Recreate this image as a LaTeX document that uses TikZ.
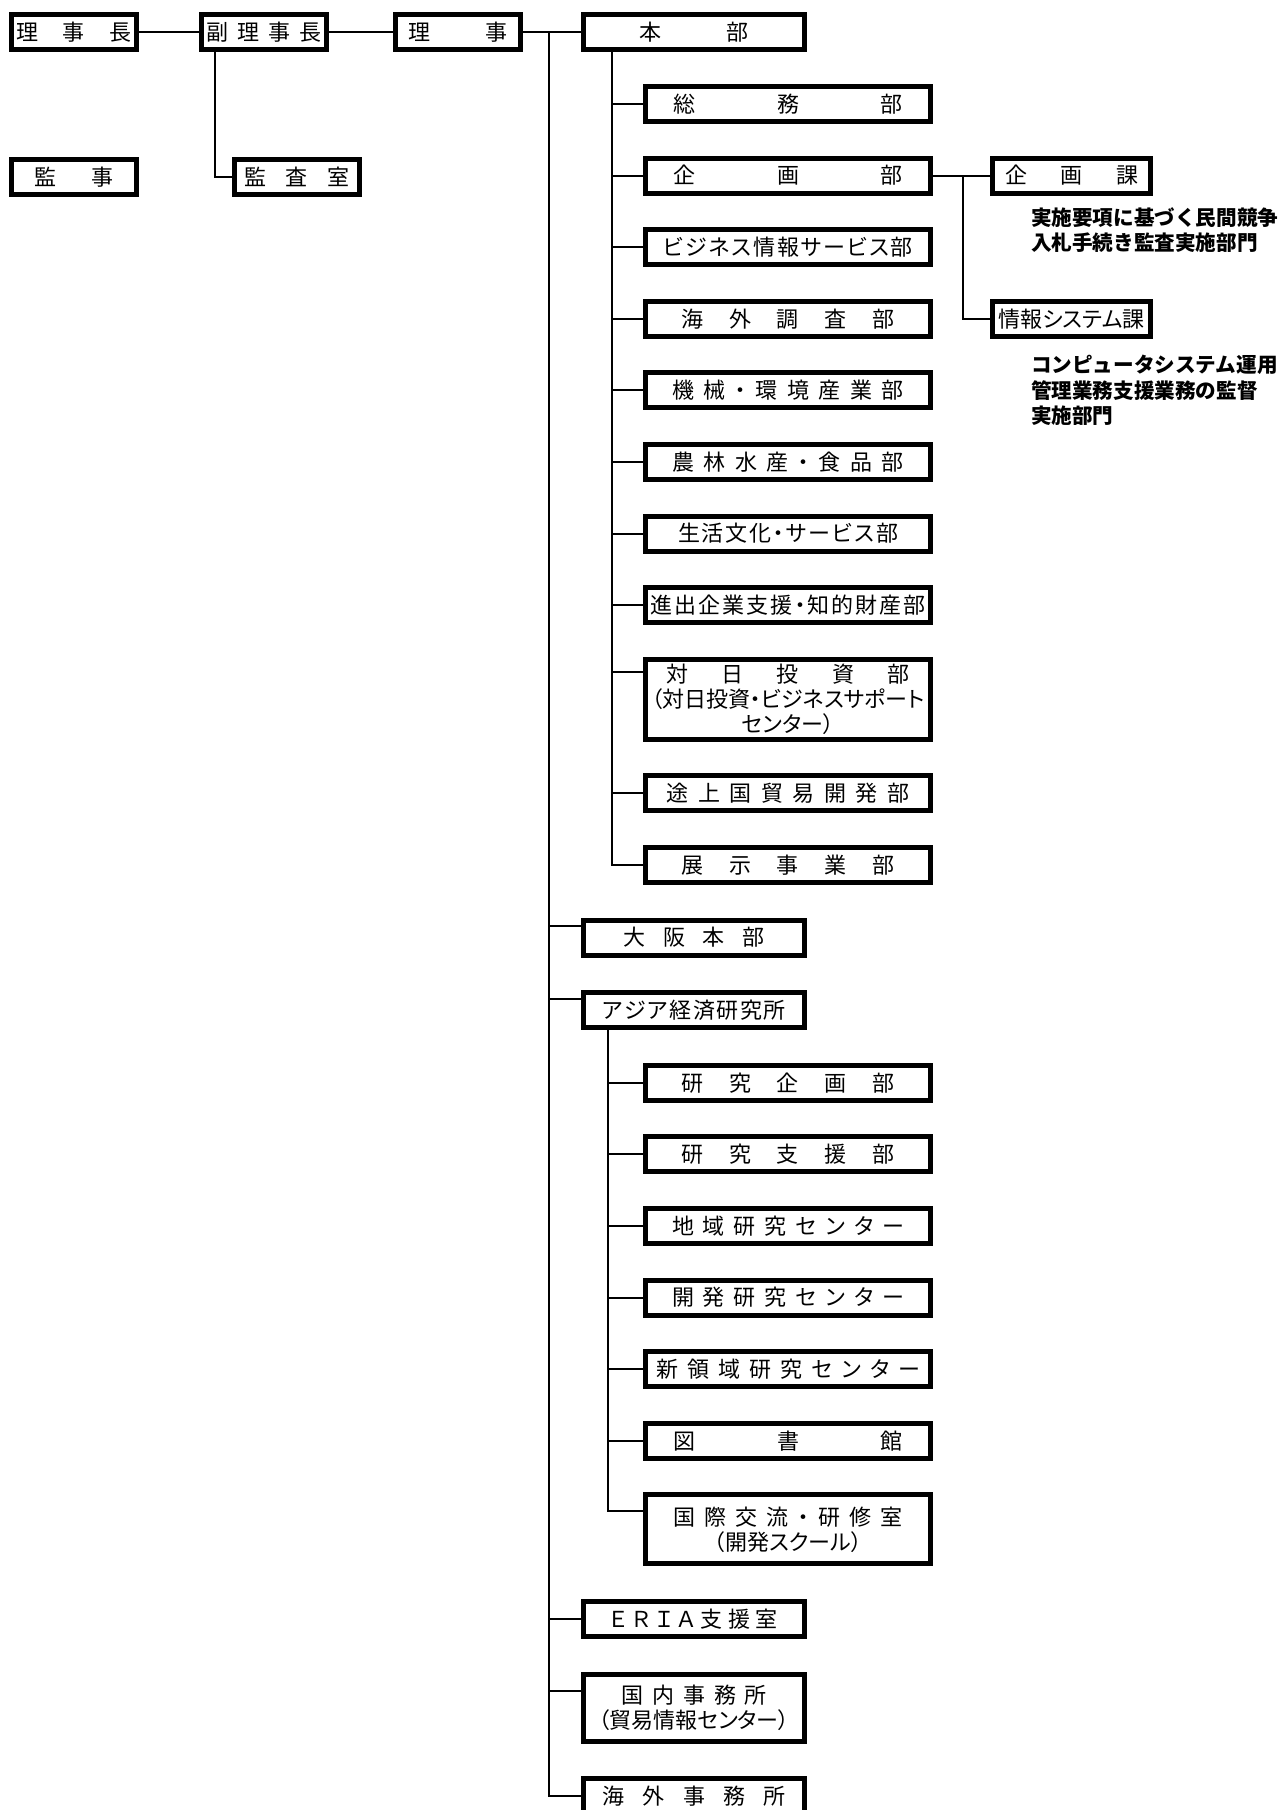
\documentclass[tikz,border=0pt]{standalone}
\usepackage{fontspec}
\setmainfont{Noto Sans CJK JP}[CharacterWidth=AlternateProportional]
\newfontfamily\notefont{Noto Sans CJK JP}
\usetikzlibrary{positioning}

\newcommand\spread[2]{\hbox to #1{\spreadfirst#2\relax}}
\def\spreadfirst#1{#1\spreadrest}
\def\spreadrest#1{\ifx#1\relax\else\hfil#1\expandafter\spreadrest\fi}

\begin{document}
\begin{tikzpicture}[
  node distance=15.8pt and 30pt,
  every node/.style={font=\fontsize{11pt}{12.5pt}\selectfont, align=center},
  orgbox/.style={draw, line width=2.5pt, inner sep=0pt, minimum height=17.5pt},
  topbox/.style={orgbox, minimum width=62.5pt},
  deptbox/.style={orgbox, minimum width=110.5pt},
  secbox/.style={orgbox, minimum width=142.5pt},
  kabox/.style={orgbox, minimum width=79pt},
  note/.style={anchor=north west, align=left, font=\notefont\bfseries\fontsize{10.3pt}{12.6pt}\selectfont},
  conn/.style={line width=1pt}
]
\useasboundingbox (0,0) rectangle (642.5pt,-905pt);

\node[topbox, anchor=north west] (richo) at (4.5pt,-6pt) {\spread{57.5pt}{理事長}};
\node[topbox, right=30pt of richo] (fukuricho) {\spread{58pt}{副理事長}};
\node[topbox, right=32pt of fukuricho] (riji) {\spread{49.5pt}{理事}};
\node[deptbox, right=29pt of riji] (honbu) {\spread{54.5pt}{本部}};
\node[topbox, below=52.5pt of richo] (kanji) {\spread{40pt}{監事}};
\node[topbox, right=46.5pt of kanji] (kansa) {\spread{52.5pt}{監査室}};

\node[secbox, below=16pt of honbu.south west, anchor=north west, xshift=31pt] (somu) {\spread{114.5pt}{総務部}};
\node[secbox, below=of somu] (kikaku) {\spread{114.5pt}{企画部}};
\node[secbox, below=of kikaku] (business) {\spread{125pt}{ビジネス情報サービス部}};
\node[secbox, below=of business] (kaigai) {\spread{106.5pt}{海外調査部}};
\node[secbox, below=of kaigai] (kikai) {\spread{115.5pt}{機械・環境産業部}};
\node[secbox, below=of kikai] (norin) {\spread{115.5pt}{農林水産・食品部}};
\node[secbox, below=of norin] (seikatsu) {\spread{110pt}{生活文化・サービス部}};
\node[secbox, below=of seikatsu] (shinshutsu) {\spread{137.5pt}{進出企業支援・知的財産部}};
\node[secbox, below=of shinshutsu, minimum height=40pt] (taiinichi) {\spread{121.5pt}{対日投資部}\\（対日投資・ビジネスサポート\\センター）};
\node[secbox, below=of taiinichi] (tojo) {\spread{121.5pt}{途上国貿易開発部}};
\node[secbox, below=of tojo] (tenji) {\spread{106.5pt}{展示事業部}};

\node[kabox, right=28.5pt of kikaku] (kikakuka) {\spread{66.5pt}{企画課}};
\node[kabox] (johoka) at (kikakuka |- kaigai) {情報システム課};
\node[note] (kikakunote) at ([xshift=17pt,yshift=-2.4pt]kikakuka.south west) {実施要項に基づく民間競争\\入札手続き監査実施部門};
\node[note] (johonote) at ([xshift=17pt,yshift=-4.8pt]johoka.south west) {コンピュータシステム運用\\管理業務支援業務の監督\\実施部門};

\node[deptbox, below=16.3pt of tenji, xshift=-47pt] (osaka) {\spread{71pt}{大阪本部}};
\node[deptbox, below=16.3pt of osaka] (ajiken) {\spread{92pt}{アジア経済研究所}};
\node[secbox, below=16.3pt of ajiken, xshift=47pt] (kenkikaku) {\spread{106.5pt}{研究企画部}};
\node[secbox, below=of kenkikaku] (kenshien) {\spread{106.5pt}{研究支援部}};
\node[secbox, below=of kenshien] (chiiki) {\spread{116pt}{地域研究センター}};
\node[secbox, below=of chiiki] (kaihatsu) {\spread{116pt}{開発研究センター}};
\node[secbox, below=of kaihatsu] (shinryoiki) {\spread{132pt}{新領域研究センター}};
\node[secbox, below=of shinryoiki] (tosho) {\spread{114.5pt}{図書館}};
\node[secbox, below=of tosho, minimum height=34.5pt] (kokusai) {\spread{115pt}{国際交流・研修室}\\（開発スクール）};
\node[deptbox, below=16.3pt of kokusai, xshift=-47pt] (eria) {\spread{83.5pt}{ＥＲＩＡ支援室}};
\node[deptbox, below=16.3pt of eria, minimum height=33.5pt] (kokunai) {\spread{73pt}{国内事務所}\\（貿易情報センター）};
\node[deptbox, below=16.3pt of kokunai] (kaigaijimu) {\spread{91.5pt}{海外事務所}};

\coordinate (trunk) at ([xshift=13pt]riji.east);
\coordinate (hbtrunk) at ([xshift=15.5pt]honbu.south west);
\coordinate (ajtrunk) at ([xshift=13.5pt]ajiken.south west);
\coordinate (kbranch) at ([xshift=15pt]kikaku.east);
\coordinate (fukudown) at ([xshift=8pt]fukuricho.south west);
\coordinate (osaka-in) at ([yshift=-4pt]osaka.north west);
\coordinate (ajiken-in) at ([yshift=-4.5pt]ajiken.north west);
\coordinate (taiinichi-in) at ([yshift=-7.5pt]taiinichi.north west);
\coordinate (kokusai-in) at ([yshift=-9.5pt]kokusai.north west);
\coordinate (kokunai-in) at ([yshift=-9.5pt]kokunai.north west);

\draw[conn] (richo) -- (fukuricho);
\draw[conn] (fukuricho) -- (riji);
\draw[conn] (riji) -- (honbu);
\draw[conn] (fukudown) |- (kansa.west);
\draw[conn] (kikaku) -- (kikakuka);
\draw[conn] (kbranch) |- (johoka.west);
\foreach \n in {honbu.west, osaka-in, ajiken-in, eria.west, kokunai-in, kaigaijimu.west}
  \draw[conn] (trunk) |- (\n);
\foreach \n in {somu.west, kikaku.west, business.west, kaigai.west, kikai.west, norin.west, seikatsu.west, shinshutsu.west, taiinichi-in, tojo.west, tenji.west}
  \draw[conn] (hbtrunk) |- (\n);
\foreach \n in {kenkikaku.west, kenshien.west, chiiki.west, kaihatsu.west, shinryoiki.west, tosho.west, kokusai-in}
  \draw[conn] (ajtrunk) |- (\n);
\end{tikzpicture}
\end{document}
